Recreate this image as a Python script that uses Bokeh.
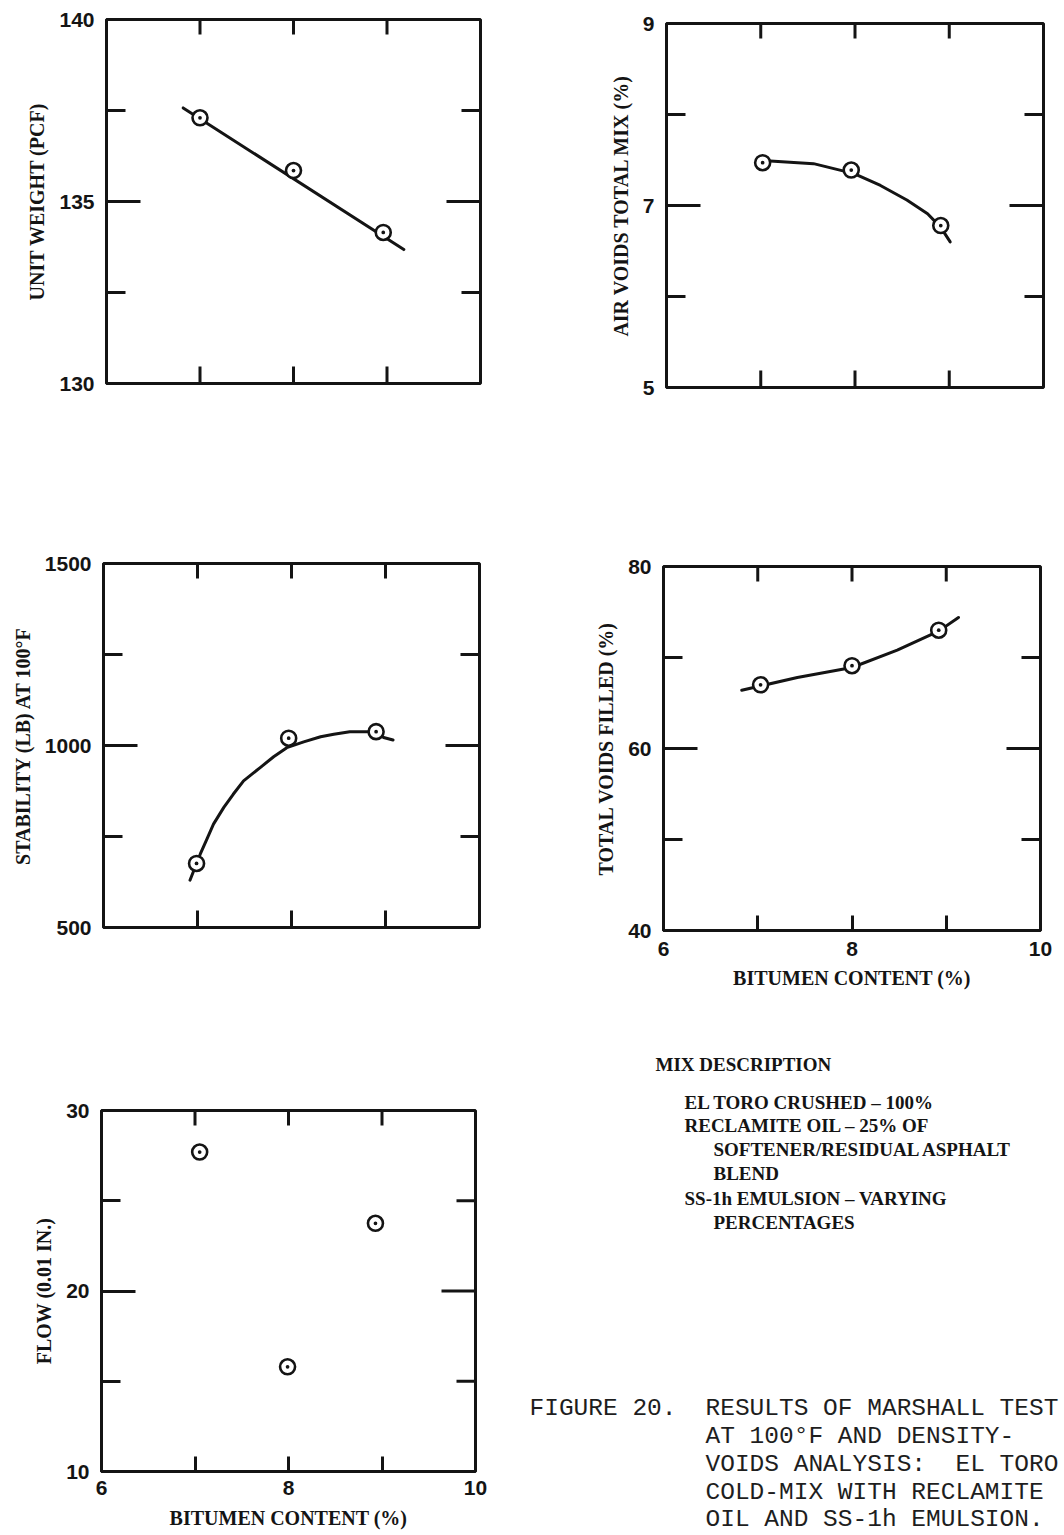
from math import pi
from bokeh.plotting import figure
from bokeh.models import Range1d, LinearAxis, FixedTicker
from bokeh.layouts import row, column
from bokeh.embed import file_html
from bokeh.resources import INLINE
from bokeh.core.properties import value

INK = "#141414"
TICK_FONT = "Liberation Sans"
TITLE_FONT = "Liberation Serif"
MONO_FONT = "Liberation Mono"

# ---------------- data ----------------
x_min, x_max = 6, 10
bitumen_ticks = [6, 8, 10]
bitumen_minor = [7, 9]
x_title = "BITUMEN CONTENT (%)"

# Unit weight (pcf)
uw_x = [7.0, 8.0, 8.96]
uw_y = [137.3, 135.85, 134.15]
uw_fit_x = [6.82, 9.18]
uw_fit_y = [137.57, 133.68]
uw_ticks = [130, 135, 140]
uw_minor = [132.5, 137.5]

# Air voids total mix (%)
av_x = [7.02, 7.96, 8.91]
av_y = [7.47, 7.39, 6.78]
av_fit_x = [7.10, 7.56, 7.99, 8.27, 8.55, 8.77, 8.91, 9.01]
av_fit_y = [7.49, 7.46, 7.35, 7.22, 7.06, 6.91, 6.76, 6.60]
av_ticks = [5, 7, 9]
av_minor = [6, 8]

# Stability (lb) at 100 F
st_x = [6.99, 7.97, 8.90]
st_y = [676, 1020, 1038]
st_fit_x = [6.92, 7.03, 7.10, 7.17, 7.28, 7.38, 7.49, 7.67, 7.81, 7.95, 8.13,
            8.31, 8.45, 8.62, 8.87, 8.98, 9.08]
st_fit_y = [630, 702, 743, 784, 830, 866, 903, 940, 969, 994, 1010,
            1024, 1031, 1038, 1038, 1022, 1015]
st_ticks = [500, 1000, 1500]
st_minor = [750, 1250]

# Total voids filled (%)
vf_x = [7.03, 8.0, 8.92]
vf_y = [67.0, 69.1, 73.0]
vf_fit_x = [6.83, 7.42, 8.0, 8.48, 8.92, 9.13]
vf_fit_y = [66.4, 67.8, 68.9, 70.8, 72.9, 74.4]
vf_ticks = [40, 60, 80]
vf_minor = [50, 70]

# Flow (0.01 in.)
fl_x = [7.05, 7.99, 8.93]
fl_y = [27.7, 15.8, 23.75]
fl_ticks = [10, 20, 30]
fl_minor = [15, 25]

mix_text = [
    "MIX DESCRIPTION",
    "EL TORO CRUSHED \u2013 100%",
    "RECLAMITE OIL \u2013 25% OF",
    "SOFTENER/RESIDUAL ASPHALT",
    "BLEND",
    "SS-1h EMULSION \u2013 VARYING",
    "PERCENTAGES",
]
caption_text = [
    "FIGURE 20.",
    "RESULTS OF MARSHALL TEST",
    "AT 100\u00b0F AND DENSITY-",
    "VOIDS ANALYSIS:\u00a0\u00a0EL TORO",
    "COLD-MIX WITH RECLAMITE",
    "OIL AND SS-1h EMULSION.",
]

# ---------------- styling helpers ----------------
Y_MAJOR_IN, Y_MINOR_IN = 34, 19
X_TICK_IN = 15


def style_axis(ax, major_in, minor_in):
    ax.axis_line_color = INK
    ax.axis_line_width = 3
    ax.major_tick_line_color = INK
    ax.minor_tick_line_color = INK
    ax.major_tick_line_width = 3
    ax.minor_tick_line_width = 3
    ax.major_tick_in = major_in
    ax.major_tick_out = 0
    ax.minor_tick_in = minor_in
    ax.minor_tick_out = 0
    ax.major_label_text_font = TICK_FONT
    ax.major_label_text_font_style = "bold"
    ax.major_label_text_font_size = "21px"
    ax.major_label_text_color = INK
    ax.axis_label_text_font = TITLE_FONT
    ax.axis_label_text_font_style = "bold"
    ax.axis_label_text_font_size = "20px"
    ax.axis_label_text_color = INK


def tick_rays(p, xs, ys, length, angle):
    p.ray(x=xs, y=ys, length=length, length_units="screen", angle=angle,
          line_color=INK, line_width=3)


def make_panel(width, height, bl, br, bt, bb, y_rng, y_ticks, y_minor, y_label,
               show_x, x_std=8, x_title_std=8):
    p = figure(width=width, height=height, x_range=Range1d(x_min, x_max),
               y_range=Range1d(*y_rng), output_backend="svg",
               toolbar_location=None, x_axis_location=None, y_axis_location=None,
               min_border_left=bl, min_border_right=br,
               min_border_top=bt, min_border_bottom=bb)
    p.grid.visible = False
    p.outline_line_color = INK
    p.outline_line_width = 3
    p.background_fill_color = "white"
    p.border_fill_color = "white"

    # left axis with labels
    ax = LinearAxis(ticker=FixedTicker(ticks=y_ticks, minor_ticks=y_minor))
    style_axis(ax, Y_MAJOR_IN, Y_MINOR_IN)
    ax.major_label_standoff = 12
    ax.axis_label = y_label
    ax.axis_label_standoff = 8
    p.add_layout(ax, "left")

    # right ticks (inward)
    y_lo, y_hi = y_rng
    tick_rays(p, [x_max] * len(y_minor), y_minor, Y_MINOR_IN, pi)
    tick_rays(p, [x_max], [y_ticks[1]], Y_MAJOR_IN, pi)

    # top ticks (inward)
    inner_x = bitumen_minor + [bitumen_ticks[1]]
    tick_rays(p, inner_x, [y_hi] * len(inner_x), X_TICK_IN, -pi / 2)

    # bottom
    if show_x:
        bx = LinearAxis(ticker=FixedTicker(ticks=bitumen_ticks, minor_ticks=bitumen_minor))
        style_axis(bx, X_TICK_IN, X_TICK_IN)
        bx.major_label_standoff = x_std
        bx.axis_label = x_title
        bx.axis_label_standoff = x_title_std
        p.add_layout(bx, "below")
    else:
        tick_rays(p, inner_x, [y_lo] * len(inner_x), X_TICK_IN + 2, pi / 2)
    return p


def add_series(p, px, py, fx=None, fy=None):
    if fx is not None:
        p.line(fx, fy, line_color=INK, line_width=3, line_join="round", line_cap="round")
    p.scatter(px, py, marker="circle_dot", size=15, line_color=INK,
              line_width=2.6, fill_color="white")


# Row 1 (page y 0 -> 540)
f1 = make_panel(560, 540, 106, 80, 19, 157, (130, 140), uw_ticks, uw_minor,
                "UNIT WEIGHT (PCF)", False)
add_series(f1, uw_x, uw_y, uw_fit_x, uw_fit_y)

f2 = make_panel(504, 540, 106, 21, 23, 153, (5, 9), av_ticks, av_minor,
                "AIR VOIDS TOTAL MIX (%)", False)
add_series(f2, av_x, av_y, av_fit_x, av_fit_y)

# Row 2 (page y 540 -> 1000)
f3 = make_panel(560, 460, 103, 81, 23, 73, (500, 1500), st_ticks, st_minor,
                "STABILITY (LB) AT 100\u00b0F", False)
add_series(f3, st_x, st_y, st_fit_x, st_fit_y)

f4 = make_panel(504, 460, 103, 24, 26, 70, (40, 80), vf_ticks, vf_minor,
                "TOTAL VOIDS FILLED (%)", True, x_std=11, x_title_std=8)
add_series(f4, vf_x, vf_y, vf_fit_x, vf_fit_y)

# Row 3 (page y 1000 -> 1535)
f5 = make_panel(520, 535, 101, 45, 110, 64, (10, 30), fl_ticks, fl_minor,
                "FLOW (0.01 IN.)", True, x_std=9, x_title_std=9)
add_series(f5, fl_x, fl_y)

# Text block (page x 520 -> 1064, page y 1000 -> 1535)
TW, TH, TX0, TY0 = 544, 535, 520, 1000
t = figure(width=TW, height=TH, x_range=Range1d(0, TW), y_range=Range1d(0, TH),
           output_backend="svg", toolbar_location=None, min_border=0,
           x_axis_location=None, y_axis_location=None)
t.grid.visible = False
t.outline_line_color = None
t.background_fill_color = "white"
t.border_fill_color = "white"

mix_pos = [(655, 1064), (684, 1102), (684, 1125), (713, 1149), (713, 1173),
           (684, 1198), (713, 1222)]
cap_pos = [(529, 1408), (705, 1408), (705, 1436), (705, 1464), (705, 1492),
           (705, 1519)]


def to_local(pos):
    return [q[0] - TX0 for q in pos], [TY0 + TH - q[1] for q in pos]


mx, my = to_local(mix_pos)
t.text(x=mx, y=my, text=mix_text, text_font=value(TITLE_FONT),
       text_font_style="bold", text_font_size="19px", text_color=INK,
       text_align="left", text_baseline="middle")
cx, cy = to_local(cap_pos)
t.text(x=cx, y=cy, text=caption_text, text_font=value(MONO_FONT),
       text_font_size="24.5px", text_color="#1e1e1e",
       text_align="left", text_baseline="middle")

layout = column(
    row(column(f1), column(f2)),
    row(column(f3), column(f4)),
    row(column(f5), column(t)),
)

open("out.html", "w").write(file_html(layout, INLINE))
